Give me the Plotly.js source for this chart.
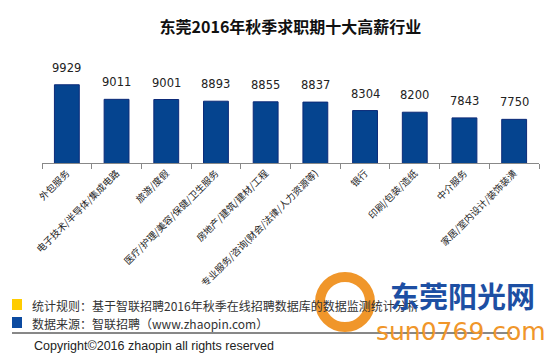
<!DOCTYPE html>
<html>
<head>
<meta charset="utf-8">
<script src="https://cdn.plot.ly/plotly-3.0.1.min.js"></script>
<style>html,body{margin:0;padding:0;background:#fff;}#chart{width:558px;height:361px;}</style>
</head>
<body>
<div id="chart"></div>
<script>
// ---- data ----
var categories = ["外包服务", "电子技术/半导体/集成电路", "旅游/度假", "医疗/护理/美容/保健/卫生服务", "房地产/建筑/建材/工程", "专业服务/咨询(财会/法律/人力资源等)", "银行", "印刷/包装/造纸", "中介服务", "家居/室内设计/装饰装潢"];
var salaries = [9929, 9011, 9001, 8893, 8855, 8837, 8304, 8200, 7843, 7750];
var titleText = "东莞2016年秋季求职期十大高薪行业";
var ruleText = "统计规则：基于智联招聘2016年秋季在线招聘数据库的数据监测统计分析";
var sourceText = "数据来源：智联招聘（www.zhaopin.com）";
var copyrightText = "Copyright©2016 zhaopin all rights reserved";

// ---- geometry helpers (pixel -> paper) ----
var L = 42, R = 19, T = 40, B = 198, W = 558, H = 361;
var pw = W - L - R, ph = H - T - B;
function px(x) { return (x - L) / pw; }
function py(y) { return (H - B - y) / ph; }

var cjk = '"Noto Sans CJK SC", "Noto Sans", sans-serif';

var annotations = [];
for (var i = 0; i < categories.length; i++) {
  annotations.push({
    x: categories[i], y: salaries[i], xref: 'x', yref: 'y',
    text: String(salaries[i]), showarrow: false,
    yanchor: 'bottom', yshift: 8,
    font: {family: 'DejaVu Sans, sans-serif', size: 11.5, color: '#222'}
  });
}
annotations.push({xref: 'paper', yref: 'paper', x: px(30), y: py(305), xanchor: 'left', yanchor: 'middle',
  text: ruleText, showarrow: false, font: {family: cjk, size: 12, color: '#333'}});
annotations.push({xref: 'paper', yref: 'paper', x: px(30), y: py(323), xanchor: 'left', yanchor: 'middle',
  text: sourceText, showarrow: false, font: {family: cjk, size: 12, color: '#333'}});
annotations.push({xref: 'paper', yref: 'paper', x: px(32), y: py(346), xanchor: 'left', yanchor: 'middle',
  text: copyrightText, showarrow: false, font: {family: 'Liberation Sans, Arial, sans-serif', size: 12.5, color: '#222'}});
// watermark
annotations.push({xref: 'paper', yref: 'paper', x: px(462), y: py(295), xanchor: 'center', yanchor: 'middle',
  text: '<b>东莞阳光网</b>', showarrow: false, font: {family: cjk, size: 29, color: '#1d4fa3'}});
annotations.push({xref: 'paper', yref: 'paper', x: px(461), y: py(331), xanchor: 'center', yanchor: 'middle',
  text: 'sun0769.com', showarrow: false, font: {family: 'DejaVu Sans, sans-serif', size: 25, color: '#f0962a'}});

var shapes = [
  // orange ring of the watermark
  {type: 'circle', xref: 'paper', yref: 'paper', x0: px(320), x1: px(370), y0: py(327), y1: py(277),
    fillcolor: 'rgba(0,0,0,0)', line: {color: '#f0962a', width: 10}},
  {type: 'rect', xref: 'paper', yref: 'paper', x0: px(12), x1: px(22), y0: py(310), y1: py(299), fillcolor: '#ffcc00', line: {width: 0}},
  {type: 'rect', xref: 'paper', yref: 'paper', x0: px(12), x1: px(22), y0: py(328), y1: py(317), fillcolor: '#0b4aa0', line: {width: 0}},
  {type: 'line', xref: 'paper', yref: 'paper', x0: px(12), x1: px(512), y0: py(333), y1: py(333), line: {color: '#111', width: 1}}
];

var trace = {
  type: 'bar', x: categories, y: salaries,
  marker: {color: '#05448f', line: {color: '#0c2a78', width: 1}},
  hoverinfo: 'none'
};

var layout = {
  width: W, height: H,
  margin: {l: L, r: R, t: T, b: B, pad: 0},
  paper_bgcolor: '#fff', plot_bgcolor: '#fff',
  title: {text: '<b>' + titleText + '</b>', x: 0.5, xanchor: 'center', xref: 'paper', y: 1 - 27 / H, yanchor: 'middle',
    font: {family: cjk, size: 16, color: '#111'}},
  bargap: 0.5,
  showlegend: false,
  xaxis: {
    type: 'category', showline: true, linecolor: '#888', linewidth: 1,
    ticks: 'outside', tickson: 'boundaries', ticklen: 5, tickcolor: '#888',
    tickangle: -45, tickfont: {family: cjk, size: 9.5, color: '#222'},
    showgrid: false, zeroline: false, fixedrange: true
  },
  yaxis: {visible: false, range: [5000, 12750], showgrid: false, zeroline: false, fixedrange: true},
  annotations: annotations,
  shapes: shapes
};

Plotly.newPlot('chart', [trace], layout, {displayModeBar: false, staticPlot: true});
</script>
</body>
</html>
